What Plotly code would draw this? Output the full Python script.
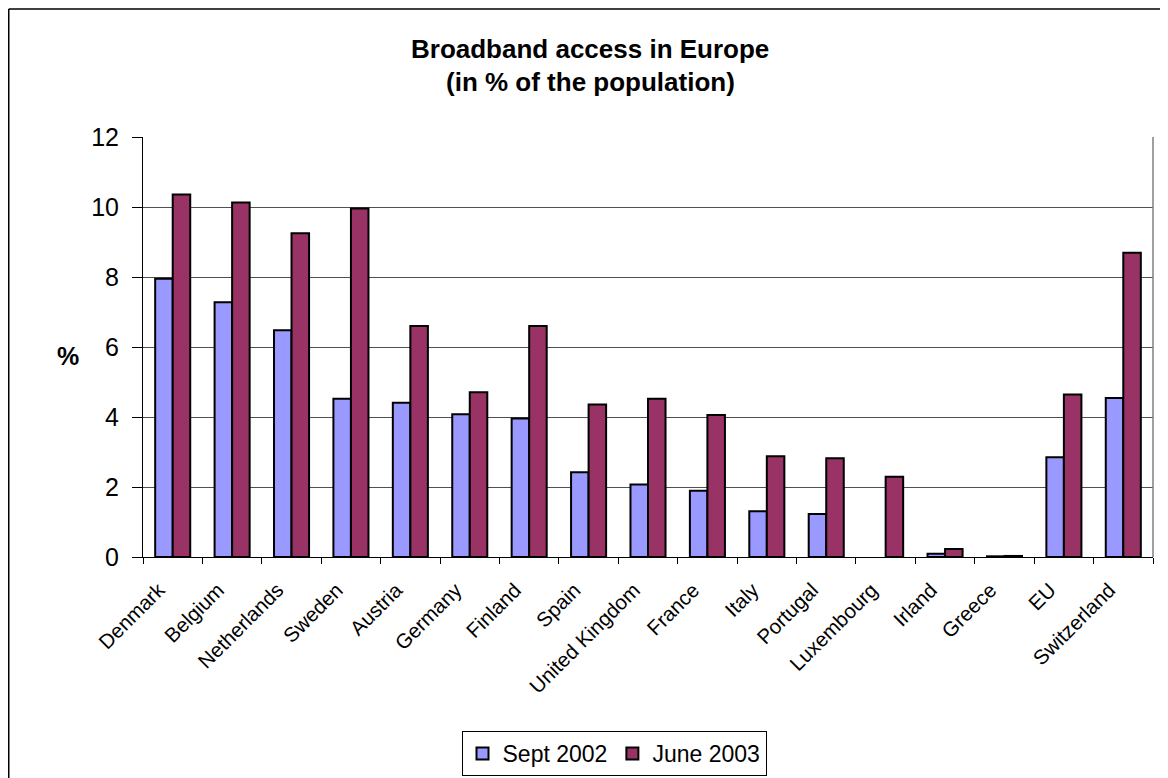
import plotly.graph_objects as go

countries = ["Denmark", "Belgium", "Netherlands", "Sweden", "Austria", "Germany",
             "Finland", "Spain", "United Kingdom", "France", "Italy", "Portugal",
             "Luxembourg", "Irland", "Greece", "EU", "Switzerland"]
sept_2002 = [7.95, 7.28, 6.48, 4.52, 4.41, 4.08, 3.96, 2.42, 2.07, 1.89, 1.31, 1.23,
             None, 0.09, 0.02, 2.85, 4.54]
june_2003 = [10.36, 10.13, 9.25, 9.96, 6.60, 4.71, 6.60, 4.36, 4.52, 4.06, 2.88, 2.82,
             2.29, 0.23, 0.03, 4.64, 8.69]
y_ticks = [0, 2, 4, 6, 8, 10, 12]

W, H = 1168, 778
# plot area in figure pixels
L, R, T, B = 135, 1145, 129, 549

def px(x):
    return (x - L) / (R - L)

def py(y):
    return (B - y) / (B - T)

FONT = "Liberation Sans, Arial, sans-serif"

fig = go.Figure()
fig.add_trace(go.Bar(name="Sept 2002", x=countries, y=sept_2002,
                     marker=dict(color="#9999FF", line=dict(color="black", width=2))))
fig.add_trace(go.Bar(name="June 2003", x=countries, y=june_2003,
                     marker=dict(color="#993366", line=dict(color="black", width=2))))

fig.update_layout(
    width=W, height=H,
    margin=dict(l=L, r=W - R, t=T, b=H - B, autoexpand=False),
    paper_bgcolor="white", plot_bgcolor="white",
    barmode="group", bargap=0.41, bargroupgap=0,
    font=dict(family=FONT, color="black"),
    showlegend=True,
    legend=dict(orientation="h", x=px(606), xanchor="center", y=py(723), yanchor="top",
                bordercolor="black", borderwidth=1, font=dict(size=23, family=FONT),
                itemwidth=30, traceorder="normal"),
    xaxis=dict(tickangle=-45, tickfont=dict(size=20.5, family=FONT), showgrid=False,
               tickson="boundaries", ticks="outside", ticklen=6, tickcolor="black",
               ticklabelstandoff=12, ticklabelshift=-14,
               showline=True, linecolor="black", linewidth=1, range=[-0.5, 16.5]),
    yaxis=dict(range=[0, 12], tickvals=y_ticks, tickfont=dict(size=25, family=FONT),
               showgrid=True, gridcolor="#505050", gridwidth=1,
               ticks="outside", ticklen=10, tickcolor="black", ticklabelstandoff=8,
               showline=True, linecolor="black", linewidth=1, zeroline=False),
    annotations=[
        dict(text="<b>Broadband access in Europe</b>", x=px(582), y=py(41), xref="paper", yref="paper",
             showarrow=False, font=dict(size=26, family=FONT), xanchor="center", yanchor="middle"),
        dict(text="<b>(in % of the population)</b>", x=px(582), y=py(74), xref="paper", yref="paper",
             showarrow=False, font=dict(size=26, family=FONT), xanchor="center", yanchor="middle"),
        dict(text="<b>%</b>", x=px(60), y=py(348), xref="paper", yref="paper",
             showarrow=False, font=dict(size=25, family=FONT), xanchor="center", yanchor="middle"),
    ],
    shapes=[
        dict(type="line", xref="paper", yref="paper", x0=1, x1=1, y0=0, y1=1,
             line=dict(color="#808080", width=1.5)),
        dict(type="line", xref="paper", yref="paper", x0=px(0.75), x1=px(1170), y0=py(1), y1=py(1),
             line=dict(color="black", width=1.5)),
        dict(type="line", xref="paper", yref="paper", x0=px(0.75), x1=px(0.75), y0=py(1), y1=py(780),
             line=dict(color="black", width=1.5)),
    ],
)

fig.write_html("out.html")
